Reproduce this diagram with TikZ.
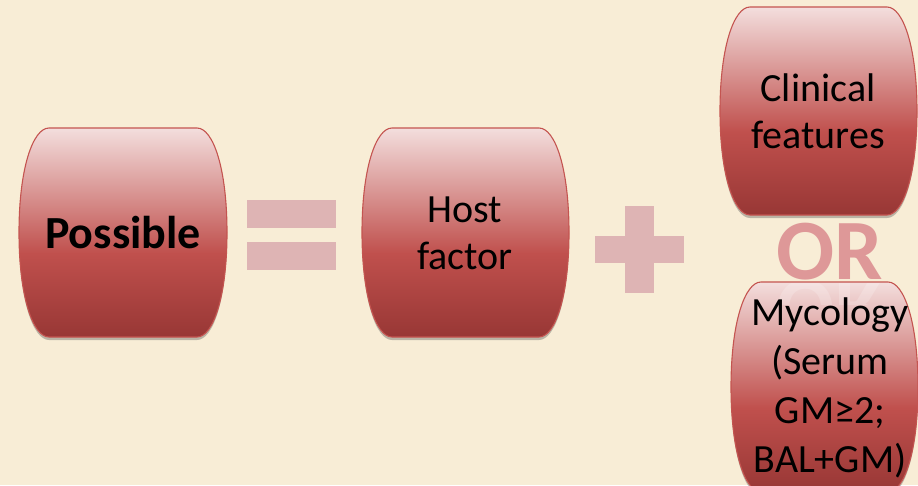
\documentclass[tikz,border=0pt]{standalone}
\usepackage{fontspec}
\setmainfont{Carlito}
\usetikzlibrary{shadows}
\definecolor{paper}{RGB}{248,237,214}
\definecolor{drumtop}{RGB}{243,222,221}
\definecolor{drummid}{RGB}{192,80,77}
\definecolor{drumlow}{RGB}{152,55,53}
\definecolor{drumline}{RGB}{196,84,80}
\definecolor{signpink}{RGB}{222,180,180}
\definecolor{orpink}{RGB}{222,152,152}
\pgfdeclareverticalshading{drumshade}{100bp}{color(0bp)=(drumlow); color(25bp)=(drumlow); color(45bp)=(drummid); color(75bp)=(drumtop); color(100bp)=(drumtop)}

% drum shaped box: left, top, right, bottom (pixels, y down)
\newcommand\drum[4]{%
  \path[drumbox] (#1+30,#2) -- (#3-30,#2)
    .. controls (#3-14,#2) and (#3,#2+40) .. (#3,{(#2+#4)/2})
    .. controls (#3,#4-40) and (#3-14,#4) .. (#3-30,#4) -- (#1+30,#4)
    .. controls (#1+14,#4) and (#1,#4-40) .. (#1,{(#2+#4)/2})
    .. controls (#1,#2+40) and (#1+14,#2) .. cycle;}

\tikzset{
  drumbox/.style={shade, shading=drumshade, draw=drumline, line width=1.1pt,
    drop shadow={shadow xshift=0pt, shadow yshift=-3pt, opacity=.35, fill=black!70}},
  drumtext/.style={align=center, text=black, inner sep=0pt,
    font=\fontsize{40}{47}\selectfont},
  sign/.style={fill=signpink},
  orword/.style={inner sep=0pt, font=\fontsize{86}{86}\selectfont\bfseries}
}

\begin{document}
\begin{tikzpicture}[x=1pt,y=-1pt]
  \clip (0,0) rectangle (918,485);
  \fill[paper] (0,0) rectangle (918,485);

  % left side
  \drum{19}{128}{227}{337}
  \node[drumtext, font=\fontsize{46}{52}\selectfont\bfseries] (possible) at (123,233) {Possible};

  % equals sign
  \fill[sign] (247,200) rectangle (336,228);
  \fill[sign] (247,242) rectangle (336,270);

  \drum{362}{128}{569}{337}
  \node[drumtext] (host) at (465,233) {Host\\factor};

  % plus sign
  \fill[sign] (625,206) rectangle (654,293);
  \fill[sign] (595,236) rectangle (684,263);

  % the two alternatives
  \node[orword, text=orpink] (or) at (830,252) {OR};

  \drum{720}{7}{917}{215}
  \node[drumtext] (clinical) at (818,111) {Clinical\\features};

  \drum{731}{282}{918}{492}
  % faint reflection of OR
  \begin{scope}
    \clip (740,283) rectangle (900,304);
    \node[orword, text=white, opacity=.2, yscale=-1, transform shape] (orshadow) at (830,308) {OR};
  \end{scope}
  \node[drumtext, font=\fontsize{40}{49}\selectfont] (mycology) at (830,388) {Mycology\\(Serum\\GM≥2;\\BAL+GM)};
\end{tikzpicture}
\end{document}
